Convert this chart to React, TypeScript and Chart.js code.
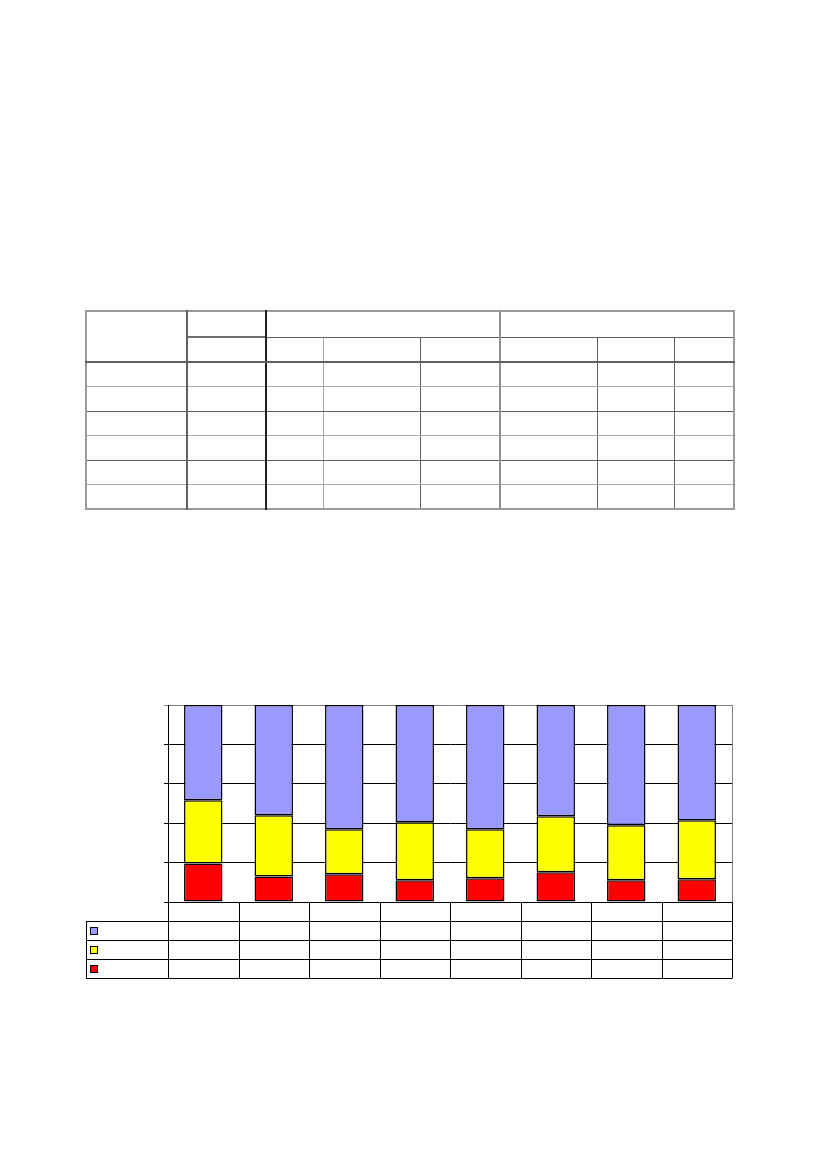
import { useEffect, useRef } from "react";
import { Chart, registerables } from "chart.js";

Chart.register(...registerables);

// categories and series (100% stacked; no labels are printed)
const categorias = ["", "", "", "", "", "", "", ""];
const serieRoja = [19.6, 13.0, 14.1, 11.0, 12.0, 15.1, 11.0, 11.5];
const serieAmarilla = [32.0, 31.0, 22.8, 29.5, 24.9, 28.4, 27.9, 30.0];
const serieAzul = [48.4, 56.0, 63.1, 59.5, 63.1, 56.5, 61.1, 58.5];
const ticksY = [0, 20, 40, 60, 80, 100];

const colorRojo = "#FF0000";
const colorAmarillo = "#FFFF00";
const colorAzul = "#9999FF";

// draws the data table under the plot (empty cells, legend keys on the left)
const tablaDatos = {
    id: "tablaDatos",
    afterDraw(chart: any) {
        const { ctx, chartArea, scales } = chart;
        const x = scales.x;
        const n = categorias.length;
        const catW = (chartArea.right - chartArea.left) / n;
        const rowH = 19;
        const legendLeft = 6;
        const top = chartArea.bottom;
        const filas = [colorAzul, colorAmarillo, colorRojo];
        const bottom = top + rowH * (filas.length + 1);

        ctx.save();
        ctx.strokeStyle = "#000";
        ctx.lineWidth = 1;
        ctx.beginPath();
        // horizontal lines
        ctx.moveTo(chartArea.left, top + 0.5);
        ctx.lineTo(chartArea.right, top + 0.5);
        for (let r = 1; r <= filas.length + 1; r++) {
            const y = Math.round(top + rowH * r) + 0.5;
            ctx.moveTo(legendLeft, y);
            ctx.lineTo(chartArea.right, y);
        }
        // legend column left edge
        ctx.moveTo(legendLeft + 0.5, top + rowH);
        ctx.lineTo(legendLeft + 0.5, bottom + 0.5);
        // category column edges
        for (let i = 0; i <= n; i++) {
            const xp =
                i < n
                    ? x.getPixelForValue(i) - catW / 2
                    : x.getPixelForValue(n - 1) + catW / 2;
            const xx = Math.round(xp) + 0.5;
            ctx.moveTo(xx, top);
            ctx.lineTo(xx, bottom + 0.5);
        }
        ctx.stroke();

        // legend keys
        filas.forEach((c, r) => {
            const cy = top + rowH * (r + 1.5);
            ctx.fillStyle = c;
            ctx.fillRect(legendLeft + 4, Math.round(cy - 4), 7, 7);
            ctx.strokeRect(legendLeft + 4.5, Math.round(cy - 4) + 0.5, 7, 7);
        });
        ctx.restore();
    },
    beforeDatasetsDraw(chart: any) {
        const { ctx, chartArea } = chart;
        ctx.save();
        ctx.strokeStyle = "#808080";
        ctx.lineWidth = 1;
        ctx.beginPath();
        ctx.moveTo(Math.round(chartArea.right) + 0.5, chartArea.top);
        ctx.lineTo(Math.round(chartArea.right) + 0.5, chartArea.bottom);
        ctx.stroke();
        ctx.restore();
    },
};

const GraficoApilado = () => {
    const chartRef = useRef<HTMLCanvasElement>(null);
    const chartInstance = useRef<Chart | null>(null);

    useEffect(() => {
        if (!chartRef.current) return;
        const config = {
            type: "bar",
            data: {
                labels: categorias,
                datasets: [
                    { data: serieRoja, backgroundColor: colorRojo },
                    { data: serieAmarilla, backgroundColor: colorAmarillo },
                    { data: serieAzul, backgroundColor: colorAzul },
                ].map((d) => ({
                    ...d,
                    borderColor: "#000",
                    borderWidth: 1.5,
                    borderSkipped: false,
                    barPercentage: 0.545,
                    categoryPercentage: 1,
                })),
            },
            options: {
                responsive: false,
                animation: false,
                devicePixelRatio: 1,
                layout: { padding: { left: 84, top: 15, right: 8, bottom: 88 } },
                plugins: {
                    legend: { display: false },
                    tooltip: { enabled: false },
                    title: { display: false },
                },
                scales: {
                    x: { stacked: true, display: false },
                    y: {
                        stacked: true,
                        min: ticksY[0],
                        max: ticksY[ticksY.length - 1],
                        afterBuildTicks: (axis: any) => {
                            axis.ticks = ticksY.map((v) => ({ value: v }));
                        },
                        ticks: { display: false },
                        grid: {
                            color: (c: any) =>
                                c.tick && c.tick.value === 100 ? "#808080" : "#000",
                            lineWidth: 1,
                            tickLength: 4,
                            drawTicks: true,
                        },
                        border: { color: "#000", width: 1 },
                    },
                },
            },
            plugins: [tablaDatos],
        };

        if (chartInstance.current) chartInstance.current.destroy();
        chartInstance.current = new Chart(chartRef.current, config as any);

        return () => {
            if (chartInstance.current) {
                chartInstance.current.destroy();
                chartInstance.current = null;
            }
        };
    }, []);

    return (
        <canvas
            ref={chartRef}
            width={660}
            height={300}
            style={{ position: "absolute", left: 80, top: 690, width: 660, height: 300 }}
        />
    );
};

// empty table on top of the page
const anchos = [101, 79, 57, 97, 80, 97, 77, 60];
const oscuro = "1px solid #606060";
const claro = "1px solid #a8a8a8";

const celda = (extra: any = {}) => ({
    border: oscuro,
    padding: 0,
    ...extra,
});

const TablaSuperior = () => {
    const filas = [0, 1, 2, 3, 4, 5];
    return (
        <table
            style={{
                position: "absolute",
                left: 85,
                top: 310,
                width: 650,
                borderCollapse: "collapse",
                tableLayout: "fixed",
                border: "2px solid #9a9a9a",
            }}
        >
            <colgroup>
                {anchos.map((w, i) => (
                    <col key={i} style={{ width: w }} />
                ))}
            </colgroup>
            <tbody>
                <tr style={{ height: 26 }}>
                    <td rowSpan={2} style={celda({ borderRight: "2px solid #606060", borderBottom: "2px solid #606060" })} />
                    <td style={celda({ borderRight: "2px solid #202020" })} />
                    <td colSpan={3} style={celda({ borderRight: "2px solid #909090" })} />
                    <td colSpan={3} style={celda()} />
                </tr>
                <tr style={{ height: 25 }}>
                    {anchos.slice(1).map((_, i) => (
                        <td
                            key={i}
                            style={celda({
                                borderBottom: "2px solid #606060",
                                borderTop: i === 0 ? "2px solid #707070" : oscuro,
                                borderRight:
                                    i === 0
                                        ? "2px solid #202020"
                                        : i === 1
                                        ? claro
                                        : i === 3
                                        ? "2px solid #909090"
                                        : oscuro,
                            })}
                        />
                    ))}
                </tr>
                {filas.map((f) => (
                    <tr key={f} style={{ height: 24.5 }}>
                        {anchos.map((_, i) => (
                            <td
                                key={i}
                                style={celda({
                                    borderBottom: f % 2 === 0 ? claro : oscuro,
                                    borderRight:
                                        i === 0
                                            ? "2px solid #606060"
                                            : i === 1
                                            ? "2px solid #202020"
                                            : i === 2
                                            ? claro
                                            : i === 4
                                            ? "2px solid #909090"
                                            : oscuro,
                                })}
                            />
                        ))}
                    </tr>
                ))}
            </tbody>
        </table>
    );
};

export default function App() {
    return (
        <div>
            <TablaSuperior />
            <GraficoApilado />
        </div>
    );
}
